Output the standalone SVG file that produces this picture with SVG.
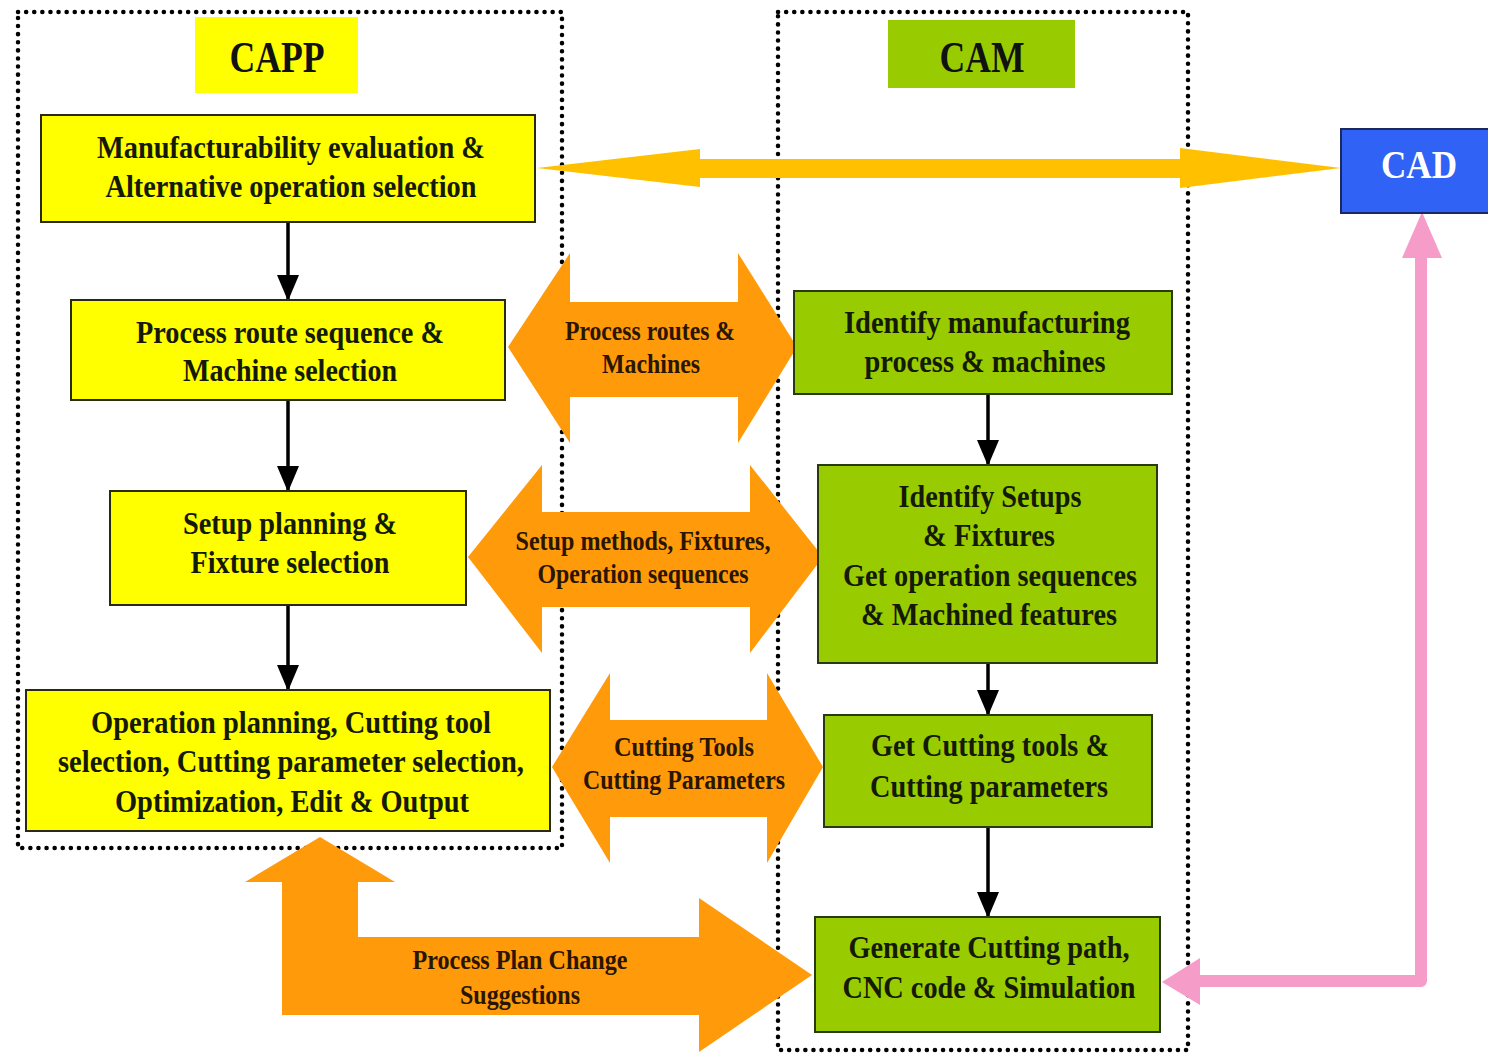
<svg xmlns="http://www.w3.org/2000/svg" width="1488" height="1054" viewBox="0 0 1488 1054">
<style>
.t{font-family:"Liberation Serif","Times New Roman",serif;font-weight:bold;font-size:31px;fill:#141a05;text-anchor:middle}
.a{font-family:"Liberation Serif","Times New Roman",serif;font-weight:bold;font-size:27px;fill:#2a1500;text-anchor:middle}
.h{font-family:"Liberation Serif","Times New Roman",serif;font-weight:bold;font-size:45px;fill:#111;text-anchor:middle}
.y{fill:#FFFF00;stroke:#2a2a10;stroke-width:2}
.g{fill:#99CC00;stroke:#2a3a10;stroke-width:2}
.dot{fill:none;stroke:#000;stroke-width:4.5;stroke-linecap:round;stroke-dasharray:0.1 8}
.bk{stroke:#000;stroke-width:3.5;fill:none}
.or{fill:#FF9A0A}
</style>
<defs>
<marker id="ah" markerWidth="26" markerHeight="24" refX="25" refY="11" orient="auto" markerUnits="userSpaceOnUse">
<path d="M0,0 L26,11 L0,22 Z" fill="#000"/>
</marker>
</defs>
<rect width="1488" height="1054" fill="#fff"/>
<g id="frames">
<rect class="dot" x="18" y="12" width="544" height="836"/>
<rect class="dot" x="778" y="12" width="410" height="1038"/>
</g>
<g id="capp-label"><rect x="195" y="17" width="163" height="76" fill="#FFFF00"/><text class="h" x="277" y="72" textLength="95" lengthAdjust="spacingAndGlyphs">CAPP</text></g>
<g id="cam-label"><rect x="888" y="20" width="187" height="68" fill="#99CC00"/><text class="h" x="982" y="72" textLength="85" lengthAdjust="spacingAndGlyphs">CAM</text></g>
<g id="connectors">
<line class="bk" x1="288" y1="222" x2="288" y2="300" marker-end="url(#ah)"/>
<line class="bk" x1="288" y1="400" x2="288" y2="491" marker-end="url(#ah)"/>
<line class="bk" x1="288" y1="605" x2="288" y2="690" marker-end="url(#ah)"/>
<line class="bk" x1="988" y1="394" x2="988" y2="465" marker-end="url(#ah)"/>
<line class="bk" x1="988" y1="663" x2="988" y2="715" marker-end="url(#ah)"/>
<line class="bk" x1="988" y1="827" x2="988" y2="917" marker-end="url(#ah)"/>
<polygon fill="#FFC000" points="537,168 700,149 700,159 1180,159 1180,148 1341,168 1180,188 1180,178 700,178 700,187"/>
<polygon class="or" points="508,347 570,253 570,302 738,302 738,253 797,347 738,443 738,397 570,397 570,443"/>
<polygon class="or" points="468,557 542,465 542,512 750,512 750,465 823,557 750,653 750,607 542,607 542,653"/>
<polygon class="or" points="552,767 610,673 610,720 767,720 767,673 823,767 767,863 767,817 610,817 610,863"/>
<polygon class="or" points="320,837 395,882 358,882 358,937 699,937 699,898 812,975 699,1052 699,1015 282,1015 282,882 245,882"/>
<path d="M1198,981 H1421 V256" fill="none" stroke="#F59CC8" stroke-width="12" stroke-linejoin="round"/>
<polygon fill="#F59CC8" points="1162,982 1200,958 1200,1005"/>
<polygon fill="#F59CC8" points="1422,212 1442,258 1402,258"/>
<text class="a" x="650" y="340" textLength="170" lengthAdjust="spacingAndGlyphs">Process routes &amp;</text>
<text class="a" x="651" y="373" textLength="98" lengthAdjust="spacingAndGlyphs">Machines</text>
<text class="a" x="643" y="550" textLength="255" lengthAdjust="spacingAndGlyphs">Setup methods, Fixtures,</text>
<text class="a" x="643" y="583" textLength="211" lengthAdjust="spacingAndGlyphs">Operation sequences</text>
<text class="a" x="684" y="756" textLength="140" lengthAdjust="spacingAndGlyphs">Cutting Tools</text>
<text class="a" x="684" y="789" textLength="202" lengthAdjust="spacingAndGlyphs">Cutting Parameters</text>
<text class="a" x="520" y="969" textLength="215" lengthAdjust="spacingAndGlyphs">Process Plan Change</text>
<text class="a" x="520" y="1004" textLength="120" lengthAdjust="spacingAndGlyphs">Suggestions</text>
</g>
<g id="n-manuf"><rect class="y" x="41" y="115" width="494" height="107"/>
<text class="t" x="291" y="158" textLength="388" lengthAdjust="spacingAndGlyphs">Manufacturability evaluation &amp;</text>
<text class="t" x="291" y="197" textLength="371" lengthAdjust="spacingAndGlyphs">Alternative operation selection</text></g>
<g id="n-route"><rect class="y" x="71" y="300" width="434" height="100"/>
<text class="t" x="290" y="343" textLength="308" lengthAdjust="spacingAndGlyphs">Process route sequence &amp;</text>
<text class="t" x="290" y="381" textLength="214" lengthAdjust="spacingAndGlyphs">Machine selection</text></g>
<g id="n-setup"><rect class="y" x="110" y="491" width="356" height="114"/>
<text class="t" x="290" y="534" textLength="214" lengthAdjust="spacingAndGlyphs">Setup planning &amp;</text>
<text class="t" x="290" y="573" textLength="199" lengthAdjust="spacingAndGlyphs">Fixture selection</text></g>
<g id="n-oper"><rect class="y" x="26" y="690" width="524" height="141"/>
<text class="t" x="291" y="733" textLength="400" lengthAdjust="spacingAndGlyphs">Operation planning, Cutting tool</text>
<text class="t" x="291" y="772" textLength="466" lengthAdjust="spacingAndGlyphs">selection, Cutting parameter selection,</text>
<text class="t" x="292" y="812" textLength="354" lengthAdjust="spacingAndGlyphs">Optimization, Edit &amp; Output</text></g>
<g id="n-identify"><rect class="g" x="794" y="291" width="378" height="103"/>
<text class="t" x="987" y="333" textLength="286" lengthAdjust="spacingAndGlyphs">Identify manufacturing</text>
<text class="t" x="985" y="372" textLength="241" lengthAdjust="spacingAndGlyphs">process &amp; machines</text></g>
<g id="n-setups"><rect class="g" x="818" y="465" width="339" height="198"/>
<text class="t" x="990" y="507" textLength="183" lengthAdjust="spacingAndGlyphs">Identify Setups</text>
<text class="t" x="989" y="546" textLength="132" lengthAdjust="spacingAndGlyphs">&amp; Fixtures</text>
<text class="t" x="990" y="586" textLength="294" lengthAdjust="spacingAndGlyphs">Get operation sequences</text>
<text class="t" x="989" y="625" textLength="256" lengthAdjust="spacingAndGlyphs">&amp; Machined features</text></g>
<g id="n-tools"><rect class="g" x="824" y="715" width="328" height="112"/>
<text class="t" x="990" y="756" textLength="238" lengthAdjust="spacingAndGlyphs">Get Cutting tools &amp;</text>
<text class="t" x="989" y="797" textLength="238" lengthAdjust="spacingAndGlyphs">Cutting parameters</text></g>
<g id="n-generate"><rect class="g" x="815" y="917" width="345" height="115"/>
<text class="t" x="989" y="958" textLength="281" lengthAdjust="spacingAndGlyphs">Generate Cutting path,</text>
<text class="t" x="989" y="998" textLength="293" lengthAdjust="spacingAndGlyphs">CNC code &amp; Simulation</text></g>
<g id="n-cad"><rect x="1341" y="129" width="150" height="84" fill="#2F62F5" stroke="#1a2a60" stroke-width="2"/>
<text class="h" x="1419" y="178" style="fill:#fff;font-size:41px" textLength="76" lengthAdjust="spacingAndGlyphs">CAD</text></g>
</svg>
